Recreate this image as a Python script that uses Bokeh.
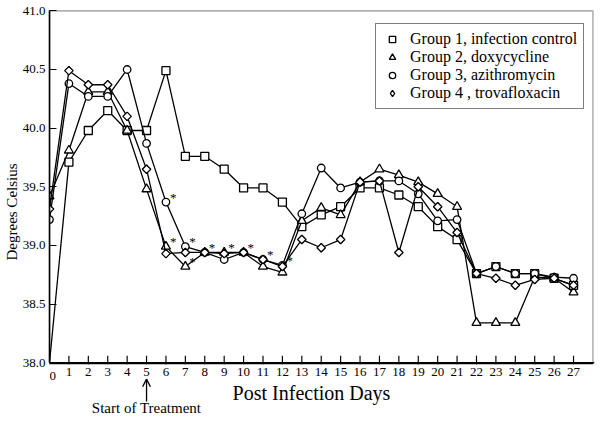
import math
from bokeh.plotting import figure
from bokeh.models import (ColumnDataSource, FixedTicker, NumeralTickFormatter, Legend,
                          LegendItem, Label, Range1d, BoxAnnotation, Span)
from bokeh.core.properties import value
from bokeh.embed import file_html
from bokeh.resources import INLINE

days = list(range(28))
x_ticks = list(range(28))
x_tick_labels = [str(t) for t in x_ticks]
y_ticks = [38.0, 38.5, 39.0, 39.5, 40.0, 40.5, 41.0]

g1_control = [38.0, 39.71, 39.98, 40.15, 39.98, 39.98, 40.49, 39.76, 39.76, 39.65,
              39.49, 39.49, 39.37, 39.16, 39.26, 39.33, 39.49, 39.49, 39.43, 39.33,
              39.16, 39.05, 38.76, 38.82, 38.76, 38.76, 38.72, 38.66]
g2_doxy = [39.42, 39.81, 40.31, 40.31, 39.98, 39.48, 38.99, 38.82, 38.94, 38.94,
           38.94, 38.82, 38.77, 39.21, 39.32, 39.26, 39.54, 39.65, 39.60, 39.54,
           39.44, 39.33, 38.34, 38.34, 38.34, 38.73, 38.72, 38.60]
g3_azithro = [39.22, 40.38, 40.27, 40.27, 40.50, 39.87, 39.37, 38.99, 38.94, 38.88,
              38.94, 38.88, 38.83, 39.27, 39.66, 39.49, 39.54, 39.55, 39.55, 39.44,
              39.21, 39.22, 38.76, 38.82, 38.76, 38.76, 38.73, 38.72]
g4_trova = [39.31, 40.49, 40.37, 40.37, 40.10, 39.65, 38.93, 38.94, 38.94, 38.93,
            38.94, 38.88, 38.82, 39.05, 38.98, 39.05, 39.54, 39.55, 38.94, 39.50,
            39.33, 39.11, 38.76, 38.72, 38.66, 38.71, 38.72, 38.66]

series_names = ["Group 1, infection control", "Group 2, doxycycline",
                "Group 3, azithromycin", "Group 4 , trovafloxacin"]

# significance asterisks: (day, group index 0..3)
star_days = [6, 6, 7, 7, 8, 9, 10, 11, 12]
star_groups = [2, 1, 2, 1, 1, 1, 1, 2, 2]

treatment_day = 5
Y_MIN, Y_MAX = 38.0, 41.0
X_MAX = 28
Y_FRAME_MIN = 37.55          # frame runs below 38.0 to hold the bottom texts
TICK_LEN = 0.06              # inward tick length on the x axis, in degrees
TICK_HALF_W = 0.03           # half width of a tick, in days
RULE_H = 0.014               # thickness of the bottom rule, in degrees
ARROW_TIP, ARROW_TAIL = 37.86, 37.67
HEAD_DX, HEAD_DY = 0.2, 0.065

SERIF = "Liberation Serif"

p = figure(width=595, height=415, output_backend="svg", toolbar_location=None,
           x_range=Range1d(0, X_MAX + 0.08), y_range=Range1d(Y_FRAME_MIN, Y_MAX + 0.02),
           min_border_left=46, min_border_right=1, min_border_top=8, min_border_bottom=0,
           background_fill_color="white", border_fill_color="white")
p.grid.visible = False
p.outline_line_color = None
p.xaxis.visible = False

ya = p.yaxis[0]
ya.bounds = (Y_MIN, Y_MAX)
ya.axis_line_width = 1.6
ya.axis_line_color = "black"
ya.major_tick_in = 7
ya.major_tick_out = 0
ya.major_tick_line_width = 1.2
ya.minor_tick_line_color = None
ya.major_label_text_font = SERIF
ya.major_label_text_font_size = "13px"
ya.major_label_text_color = "black"
ya.major_label_text_font_style = "normal"
ya.ticker = FixedTicker(ticks=y_ticks)
ya.formatter = NumeralTickFormatter(format="0.0")
ya.major_label_standoff = 4
ya.axis_label = "Degrees Celsius"
ya.axis_label_text_font = SERIF
ya.axis_label_text_font_size = "15px"
ya.axis_label_text_font_style = "normal"
ya.axis_label_text_color = "black"
ya.axis_label_standoff = 0

# the box around the data area
p.add_layout(BoxAnnotation(left=0, right=X_MAX, bottom=Y_MIN, top=Y_MAX,
                           fill_color=None, line_color="black", line_width=1.6))
p.add_layout(Span(location=Y_MIN, dimension="width", line_color="black", line_width=1.6))
# bottom rule drawn as a thin filled bar just under 38.0 as well
p.quad(left=[0], right=[X_MAX], bottom=[Y_MIN - RULE_H], top=[Y_MIN],
       fill_color="black", line_color=None)

# inward ticks (thin filled bars) and day labels along the bottom
p.quad(left=[t - TICK_HALF_W for t in x_ticks], right=[t + TICK_HALF_W for t in x_ticks],
       bottom=[Y_MIN - RULE_H] * len(x_ticks), top=[Y_MIN + TICK_LEN] * len(x_ticks),
       fill_color="black", line_color=None)
tick_src = ColumnDataSource(dict(
    x=x_ticks, y=[Y_MIN] * len(x_ticks),
    t=["\u2002" + s if s == "0" else s for s in x_tick_labels]))
p.text("x", "y", text="t", source=tick_src, y_offset=5,
       text_font=value(SERIF), text_font_size="13px", text_align="center",
       text_baseline="top", text_color="black")

groups = [g1_control, g2_doxy, g3_azithro, g4_trova]
markers = ["square", "triangle", "circle", "square"]
sizes = [8, 9, 7.5, 6]
angles = [0, 0, 0, math.pi / 4]

legend_items = []
for i, (vals, mk, sz, ang, name) in enumerate(zip(groups, markers, sizes, angles, series_names)):
    p.line(days, vals, line_color="black", line_width=1.3)
    pts = [(d, v) for d, v in zip(days, vals) if v > Y_MIN]
    src = ColumnDataSource(dict(x=[a for a, _ in pts], y=[b for _, b in pts]))
    leg_r = None
    if i == 3:
        # diamond glyph used for the legend key, hidden under the rotated squares
        leg_r = p.scatter("x", "y", source=src, marker="diamond", size=8,
                          fill_color="white", line_color="black", line_width=1.3)
    r = p.scatter("x", "y", source=src, marker=mk, size=sz, angle=ang,
                  fill_color="white", line_color="black", line_width=1.3)
    legend_items.append(LegendItem(label=name, renderers=[leg_r if leg_r is not None else r]))

star_src = ColumnDataSource(dict(
    x=star_days,
    y=[groups[g][d] for d, g in zip(star_days, star_groups)],
    t=["*"] * len(star_days)))
p.text("x", "y", text="t", source=star_src, x_offset=4, y_offset=-5,
       text_font=value(SERIF), text_font_size="13px", text_align="left",
       text_baseline="middle", text_color="black")

legend = Legend(items=legend_items, location=(326, 306), margin=0,
                padding=6, spacing=0, glyph_width=20, glyph_height=16,
                label_height=16, label_standoff=8,
                label_text_font=SERIF, label_text_font_size="16px",
                label_text_color="black",
                border_line_color="black", border_line_width=1.6,
                background_fill_color="white", background_fill_alpha=1.0)
p.add_layout(legend)

p.add_layout(Label(x=262, y=37.74, x_units="screen", y_units="data",
                   text="Post Infection Days", text_font=SERIF, text_font_size="20px",
                   text_align="center", text_baseline="middle", text_color="black"))
p.add_layout(Label(x=treatment_day, y=37.615, x_units="data", y_units="data",
                   text="Start of Treatment", text_font=SERIF, text_font_size="15px",
                   text_align="center", text_baseline="middle", text_color="black"))

# arrow marking the start of treatment (shaft and open head)
p.segment(x0=[treatment_day, treatment_day, treatment_day],
          y0=[ARROW_TAIL, ARROW_TIP, ARROW_TIP],
          x1=[treatment_day, treatment_day - HEAD_DX, treatment_day + HEAD_DX],
          y1=[ARROW_TIP, ARROW_TIP - HEAD_DY, ARROW_TIP - HEAD_DY],
          line_color="black", line_width=1.3)

open("out.html", "w").write(file_html(p, INLINE))
